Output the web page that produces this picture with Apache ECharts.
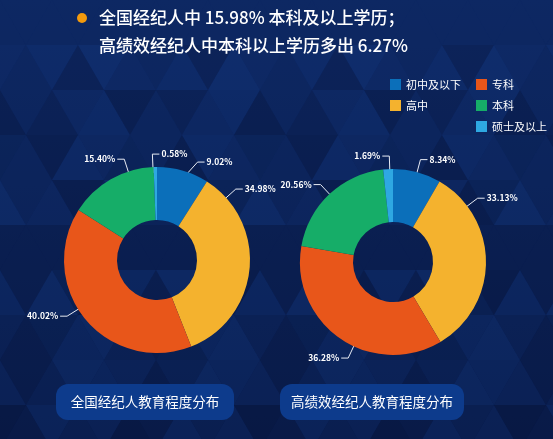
<!DOCTYPE html>
<html>
<head>
<meta charset="utf-8">
<script src="https://cdn.jsdelivr.net/npm/echarts@6/dist/echarts.min.js"></script>
<style>
html,body{margin:0;padding:0;background:#0b1f52;}
#c{width:553px;height:439px;}
</style>
</head>
<body>
<div id="c"></div>
<script>
var categories = ['初中及以下', '高中', '专科', '本科', '硕士及以上'];
var nationalValues = [9.02, 34.98, 40.02, 15.40, 0.58];
var highPerfValues = [8.34, 33.13, 36.28, 20.56, 1.69];
var legendCol1 = ['初中及以下', '高中'];
var legendCol2 = ['专科', '本科', '硕士及以上'];
var chartTitles = ['全国经纪人教育程度分布', '高绩效经纪人教育程度分布'];
var headline = '全国经纪人中 15.98% 本科及以上学历；\n高绩效经纪人中本科以上学历多出 6.27%';

var colors = ['#0b6fba', '#f4b22e', '#e8561a', '#16ad68', '#2ea8e2'];
var font = '"Noto Sans CJK SC", "Noto Sans", sans-serif';

// layout settings
var centers = [[157, 260], [393, 262]];
var outerR = 93, innerR = 40;
var angleOverride = [{ 0: 18, 1: 48, 2: 238, 3: 342, 4: 357.5 }, { 1: 53, 2: 205, 4: 358 }];
var elbowOverride = [{ 0: 22.5 }, {}];
var sideOverride = [{ 4: 1 }, {}];
var allValues = [nationalValues, highPerfValues];

function toData(vals) {
  return categories.map(function (n, i) { return { name: n, value: vals[i] }; });
}

function midAngle(vals, idx) {
  var total = vals.reduce(function (a, b) { return a + b; }, 0);
  var before = 0;
  for (var i = 0; i < idx; i++) before += vals[i];
  return (before + vals[idx] / 2) / total * 360;
}

function pt(c, r, ang) {
  var rad = ang * Math.PI / 180;
  return [c[0] + r * Math.sin(rad), c[1] - r * Math.cos(rad)];
}

function labelLayout(params) {
  var s = params.seriesIndex, d = params.dataIndex;
  var c = centers[s];
  var ang = angleOverride[s][d] != null ? angleOverride[s][d] : midAngle(allValues[s], d);
  var eang = elbowOverride[s][d] != null ? elbowOverride[s][d] : ang;
  var p0 = pt(c, 87, ang);
  var p1 = pt(c, 106, eang);
  var side = sideOverride[s][d] != null ? sideOverride[s][d] : (Math.sin(ang * Math.PI / 180) >= 0 ? 1 : -1);
  var p2 = [p1[0] + side * 7, p1[1]];
  return {
    x: p2[0] + side * 2,
    y: p2[1],
    align: side > 0 ? 'left' : 'right',
    verticalAlign: 'middle',
    labelLinePoints: [p0, p1, p2]
  };
}

var chart = echarts.init(document.getElementById('c'));

function pie(center, vals) {
  return {
    type: 'pie',
    center: center,
    radius: [innerR, outerR],
    startAngle: 90,
    clockwise: true,
    data: toData(vals),
    label: {
      show: true,
      position: 'outside',
      color: '#ffffff',
      fontSize: 8.5,
      fontWeight: 'bold',
      fontFamily: font,
      overflow: 'none',
      edgeDistance: 0,
      formatter: function (p) { return p.value.toFixed(2) + '%'; }
    },
    labelLine: {
      show: true,
      length: 14,
      length2: 8,
      lineStyle: { color: '#e8ecf5', width: 1 }
    },
    labelLayout: labelLayout,
    itemStyle: { borderWidth: 0 },
    emphasis: { disabled: true }
  };
}

function legend(data, left) {
  return {
    data: data,
    orient: 'vertical',
    left: left,
    top: 74,
    icon: 'rect',
    itemWidth: 11,
    itemHeight: 11,
    itemGap: 10,
    selectedMode: false,
    textStyle: { color: '#ffffff', fontSize: 11, fontFamily: font }
  };
}

// decorative triangle background
var shades = ['#0c2459', '#0e2b6a', '#091c4a', '#10306f', '#0a2153', '#081842', '#0d2762'];
var bg = [];
var tw = 52, th = 45;
for (var r = 0; r < 11; r++) {
  for (var k = -1; k < 24; k++) {
    var x = k * tw / 2, y0 = r * th, y1 = (r + 1) * th;
    var pts = ((k + r) % 2 === 0)
      ? [[x - tw / 2, y1], [x + tw / 2, y1], [x, y0]]
      : [[x - tw / 2, y0], [x + tw / 2, y0], [x, y1]];
    var h = Math.abs((k * 7 + r * 13 + (k * r) % 5) % 7);
    bg.push({ type: 'polygon', silent: true, z: -10, shape: { points: pts }, style: { fill: shades[h], opacity: 0.5 } });
  }
}

chart.setOption({
  backgroundColor: {
    type: 'linear', x: 0, y: 0, x2: 0, y2: 1,
    colorStops: [
      { offset: 0, color: '#0f2c6c' },
      { offset: 1, color: '#081946' }
    ]
  },
  color: colors,
  animation: false,
  legend: [legend(legendCol1, 385), legend(legendCol2, 471)],
  series: [
    pie(centers[0], nationalValues),
    pie(centers[1], highPerfValues)
  ],
  graphic: bg.concat([
    { type: 'circle', shape: { cx: 82, cy: 18, r: 5 }, style: { fill: '#f39a0d' } },
    {
      type: 'text', left: 99, top: 4,
      style: { text: headline, fill: '#ffffff', fontSize: 17, lineHeight: 28, fontFamily: font, fontWeight: 500 }
    },
    {
      type: 'group', left: 56, top: 384,
      children: [
        { type: 'rect', shape: { x: 0, y: 0, width: 178, height: 36, r: 12 }, style: { fill: '#0d3b8c' } },
        { type: 'text', x: 89, y: 18, style: { text: chartTitles[0], fill: '#ffffff', fontSize: 13.5, fontFamily: font, align: 'center', verticalAlign: 'middle' } }
      ]
    },
    {
      type: 'group', left: 280, top: 384,
      children: [
        { type: 'rect', shape: { x: 0, y: 0, width: 184, height: 36, r: 12 }, style: { fill: '#0d3b8c' } },
        { type: 'text', x: 92, y: 18, style: { text: chartTitles[1], fill: '#ffffff', fontSize: 13.5, fontFamily: font, align: 'center', verticalAlign: 'middle' } }
      ]
    }
  ])
});
</script>
</body>
</html>
